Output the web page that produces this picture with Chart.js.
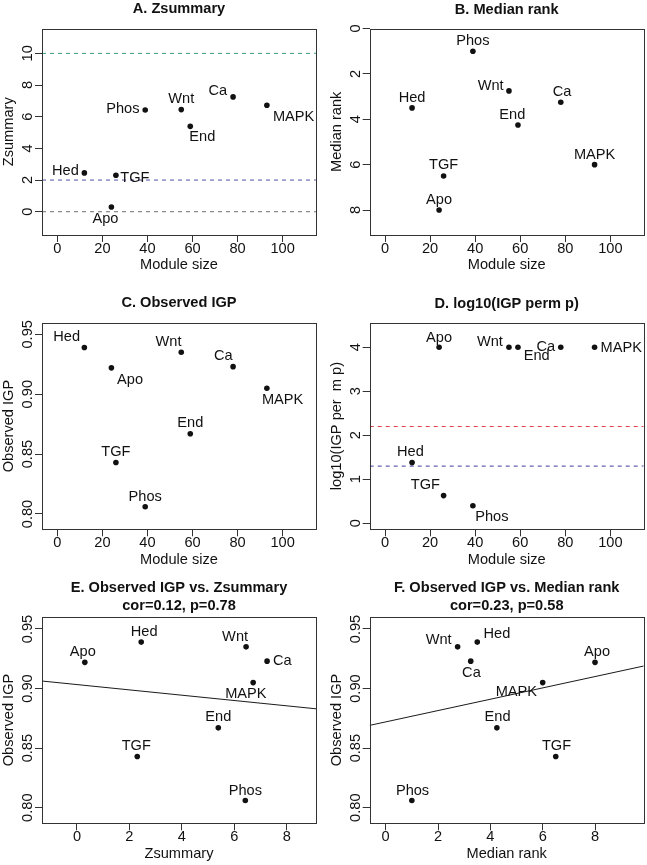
<!DOCTYPE html>
<html><head><meta charset="utf-8">
<script src="https://cdn.jsdelivr.net/npm/chart.js@4.4.1/dist/chart.umd.min.js"></script>
<style>
html,body{margin:0;padding:0;background:#fff;}
#wrap{position:relative;width:647px;height:865px;overflow:hidden;background:#fff;}
#wrap canvas{position:absolute;left:0;top:0;}
</style></head><body><div id="wrap"></div>
<script>
// ---------- data ----------
const modules     = ['Hed','Apo','TGF','Phos','Wnt','End','Ca','MAPK'];
const moduleSize  = [12, 24, 26, 39, 55, 59, 78, 93];
const zsummary    = [2.45, 0.30, 2.30, 6.42, 6.45, 5.39, 7.25, 6.72];
const medianRank  = [3.5, 8, 6.5, 1, 2.75, 4.25, 3.25, 6];
const observedIGP = [0.939, 0.922, 0.843, 0.806, 0.935, 0.867, 0.923, 0.905];
const log10PermP  = [1.38, 4, 0.63, 0.40, 4, 4, 4, 4];
const zThresholds = [10, 2, 0];
const pThresholds = [2.2, 1.3];
const fitE_x = [-1.33, 9.12], fitE_y = [0.9063, 0.8830];
const fitF_x = [-0.61, 9.86], fitF_y = [0.8691, 0.9189];
const ticksModuleSize = [0, 20, 40, 60, 80, 100];
const ticksZ     = [0, 2, 4, 6, 8, 10];
const ticksRank  = [0, 2, 4, 6, 8];
const ticksIGP   = [0.80, 0.85, 0.90, 0.95];
const ticksLog   = [0, 1, 2, 3, 4];
const ticksZx    = [0, 2, 4, 6, 8];

// ---------- layout / style ----------
const FONT = "'Liberation Sans', Arial, Helvetica, sans-serif";
const FS = 14.6;
Chart.defaults.font.family = FONT;
const INK = '#111';
const panels = [
 {title:['A. Zsummary'], titleY:[9.3], box:{l:42,t:28.5,r:316,b:235},
  x:{v:moduleSize,min:-6.8,max:114.8,ticks:ticksModuleSize,dec:0,title:'Module size'},
  y:{v:zsummary,min:-1.47,max:11.57,ticks:ticksZ,dec:0,title:'Zsummary'},
  hl:zThresholds, hlc:['#34a07a','#5252a8','#707070'],
  lab:{Hed:[-19,-2.3],Apo:[-6,12.3],TGF:[19,2.3],Phos:[-22.3,-0.7],Wnt:[0,-10.3],End:[12,11],Ca:[-15.3,-6.3],MAPK:[26.7,11.3]}},
 {title:['B. Median rank'], titleY:[9.5], box:{l:369.7,t:28.5,r:643.7,b:235},
  x:{v:moduleSize,min:-6.8,max:114.8,ticks:ticksModuleSize,dec:0,title:'Module size'},
  y:{v:medianRank,min:0,max:9.1,ticks:ticksRank,dec:0,title:'Median rank',reverse:true},
  hl:[], hlc:[],
  lab:{Hed:[0,-9.7],Apo:[0,-9.7],TGF:[0,-10.7],Phos:[0,-10],Wnt:[-18.3,-5.3],End:[-5.7,-10],Ca:[1.3,-10.3],MAPK:[0,-10]}},
 {title:['C. Observed IGP'], titleY:[303.2], box:{l:42,t:322.8,r:316,b:529.3},
  x:{v:moduleSize,min:-6.8,max:114.8,ticks:ticksModuleSize,dec:0,title:'Module size'},
  y:{v:observedIGP,min:0.7872,max:0.9596,ticks:ticksIGP,dec:2,title:'Observed IGP'},
  hl:[], hlc:[],
  lab:{Hed:[-17.7,-10.3],Apo:[18.7,11.7],TGF:[0,-10.7],Phos:[0,-10],Wnt:[-12.7,-10.3],End:[0,-10.7],Ca:[-9.7,-10.7],MAPK:[15.7,11.7]}},
 {title:['D. log10(IGP perm p)'], titleY:[303.6], box:{l:369.7,t:322.8,r:643.7,b:529.3},
  x:{v:moduleSize,min:-6.8,max:114.8,ticks:ticksModuleSize,dec:0,title:'Module size'},
  y:{v:log10PermP,min:-0.136,max:4.557,ticks:ticksLog,dec:0,title:'log10(IGP per  m p)'},
  hl:pThresholds, hlc:['#e23c44','#3f3f9e'],
  lab:{Hed:[-1.7,-10.3],Apo:[0,-9.7],TGF:[-18.3,-10.7],Phos:[19,11.7],Wnt:[-19,-5.7],End:[18.7,9],Ca:[-15,0],MAPK:[26.7,0.7]}},
 {title:['E. Observed IGP vs. Zsummary','cor=0.12, p=0.78'], titleY:[588,605.7], box:{l:42,t:616.7,r:316,b:823.3},
  x:{v:zsummary,min:-1.333,max:9.116,ticks:ticksZx,dec:0,title:'Zsummary'},
  y:{v:observedIGP,min:0.7869,max:0.9603,ticks:ticksIGP,dec:2,title:'Observed IGP'},
  hl:[], hlc:[], fit:[fitE_x,fitE_y],
  lab:{Hed:[3,-10],Apo:[-2,-10.3],TGF:[-1,-10.7],Phos:[0,-10],Wnt:[-11,-10.3],End:[0,-10.7],Ca:[15.3,0.3],MAPK:[-7.3,11.3]}},
 {title:['F. Observed IGP vs. Median rank','cor=0.23, p=0.58'], titleY:[588,605.7], box:{l:369.7,t:616.7,r:643.7,b:823.3},
  x:{v:medianRank,min:-0.61,max:9.86,ticks:ticksRank,dec:0,title:'Median rank'},
  y:{v:observedIGP,min:0.7869,max:0.9603,ticks:ticksIGP,dec:2,title:'Observed IGP'},
  hl:[], hlc:[], fit:[fitF_x,fitF_y],
  lab:{Hed:[19.7,-8.3],Apo:[2,-10.3],TGF:[0.7,-10.7],Phos:[0.7,-10],Wnt:[-19,-7],End:[0.7,-10.7],Ca:[0.7,12],MAPK:[-26.3,9.3]}}
];

const YW = 40.5, XH = 37.5, TL = 7;
const wrap = document.getElementById('wrap');

function makePanel(p){
  const cv = document.createElement('canvas');
  cv.width = 647; cv.height = 865;
  cv.style.width = '647px'; cv.style.height = '865px';
  wrap.appendChild(cv);
  const datasets = [];
  p.hl.forEach((v,i)=>{
    datasets.push({type:'line', data:[{x:p.x.min,y:v},{x:p.x.max,y:v}], borderColor:p.hlc[i],
      borderWidth:1, borderDash:[4,4], pointRadius:0, fill:false, tension:0});
  });
  if (p.fit){
    datasets.push({type:'line', data:p.fit[0].map((x,i)=>({x:x,y:p.fit[1][i]})), borderColor:'#1a1a1a',
      borderWidth:1, pointRadius:0, fill:false, tension:0});
  }
  datasets.push({type:'scatter', data:p.x.v.map((x,i)=>({x:x,y:p.y.v[i]})), pointRadius:2.8,
    pointHoverRadius:2.8, backgroundColor:'#111', borderWidth:0, pointStyle:'circle'});

  const overlay = {
    id:'overlay',
    afterDraw(chart){
      const ctx = chart.ctx, ca = chart.chartArea;
      ctx.save();
      // box
      ctx.strokeStyle = '#333'; ctx.lineWidth = 1;
      ctx.strokeRect(Math.round(ca.left)+0.5, Math.round(ca.top)+0.5,
                     Math.round(ca.right)-Math.round(ca.left), Math.round(ca.bottom)-Math.round(ca.top));
      // title
      ctx.fillStyle = INK; ctx.textAlign = 'center'; ctx.textBaseline = 'middle';
      ctx.font = 'bold ' + FS + 'px ' + FONT;
      const cx = (ca.left + ca.right)/2;
      p.title.forEach((t,i)=> ctx.fillText(t, cx, p.titleY[i]));
      // rotated y tick labels
      const ys = chart.scales.y;
      ctx.font = FS + 'px ' + FONT;
      ys.ticks.forEach(tk=>{
        const py = ys.getPixelForValue(tk.value);
        ctx.save(); ctx.translate(ca.left - 13.7, py); ctx.rotate(-Math.PI/2);
        ctx.fillText(tk.label, 0, 0); ctx.restore();
      });
      // point labels
      const meta = chart.getDatasetMeta(datasets.length-1);
      meta.data.forEach((el,i)=>{
        const off = p.lab[modules[i]];
        ctx.fillText(modules[i], el.x + off[0], el.y + off[1]);
      });
      ctx.restore();
    }
  };

  const axisCommon = (a, isX) => ({
    type:'linear', min:a.min, max:a.max, reverse:!!a.reverse,
    afterBuildTicks: s => { s.ticks = a.ticks.map(v=>({value:v})); },
    afterFit: s => { if (isX) s.height = XH; else s.width = YW; },
    grid:{display:true, drawOnChartArea:false, drawTicks:true, tickLength:TL, color:'#333', lineWidth:1},
    border:{display:false},
    ticks:{display:isX, autoSkip:false, maxRotation:0, minRotation:0, color:INK, padding:-0.6,
      font:{size:FS, lineHeight:1}, callback: v => Number(v).toFixed(a.dec)},
    title:{display:true, text:a.title, color:INK, padding:0, font:{size:FS, lineHeight:1}}
  });

  new Chart(cv, {
    type:'scatter',
    data:{datasets},
    options:{
      responsive:false, animation:false, devicePixelRatio:1,
      layout:{padding:{left:p.box.l - YW, top:p.box.t, right:647 - p.box.r, bottom:865 - p.box.b - XH}},
      plugins:{legend:{display:false}, tooltip:{enabled:false}, title:{display:false}},
      scales:{ x:Object.assign(axisCommon(p.x,true),{position:'bottom'}),
               y:Object.assign(axisCommon(p.y,false),{position:'left'}) },
      events:[]
    },
    plugins:[overlay]
  });
}
panels.forEach(makePanel);
</script></body></html>
